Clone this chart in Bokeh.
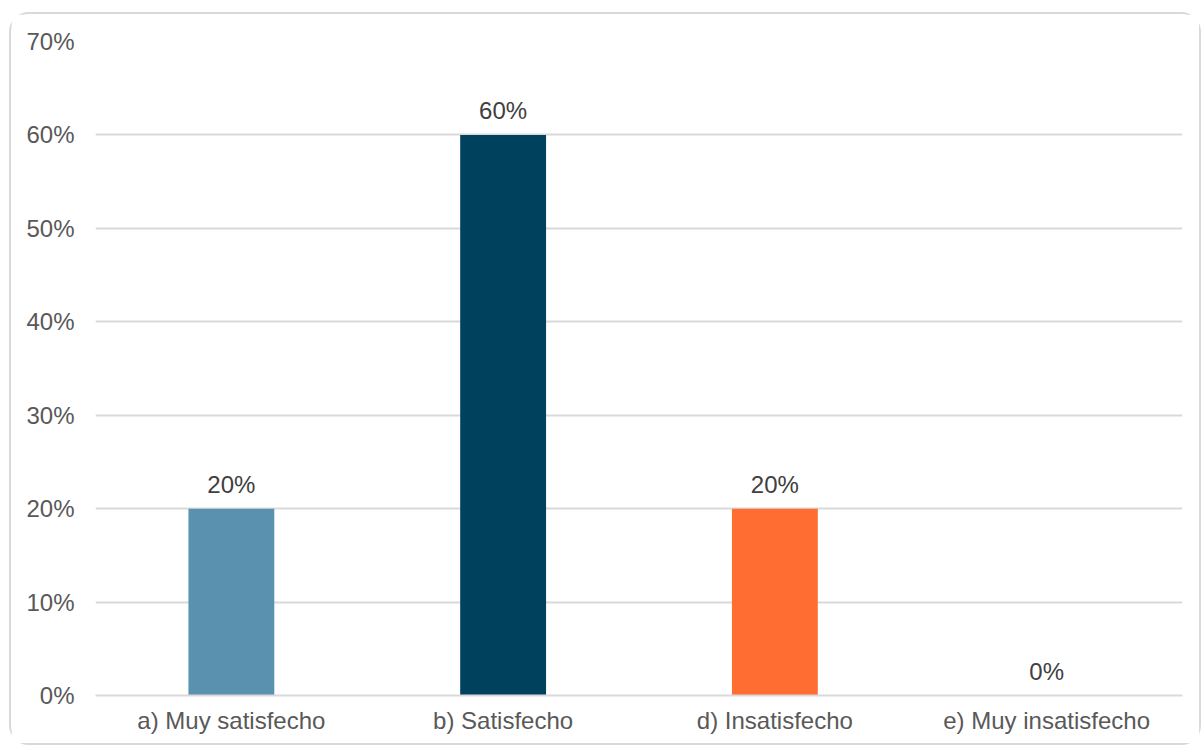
from bokeh.plotting import figure
from bokeh.models import ColumnDataSource, NumeralTickFormatter, FactorRange
from bokeh.core.properties import value
from bokeh.embed import file_html
from bokeh.resources import INLINE

categories = ["a) Muy satisfecho", "b) Satisfecho", "d) Insatisfecho", "e) Muy insatisfecho"]
shares = [0.20, 0.60, 0.20, 0.0]
labels = ["20%", "60%", "20%", "0%"]
colors = ["#5A91AE", "#00425E", "#FF6D33", "#FFFFFF"]

src = ColumnDataSource(dict(cat=categories, val=shares, lab=labels, col=colors))

FONT = "Liberation Sans"

p = figure(x_range=FactorRange(*categories, range_padding=0), y_range=(0, 0.7),
           width=1192, height=733, output_backend="svg", toolbar_location=None,
           min_border_left=84, min_border_right=21, min_border_top=27, min_border_bottom=52)
p.styles = {"margin-left": "9px", "margin-top": "12px", "border": "2px solid #D9D9D9",
            "border-radius": "20px"}

p.vbar(x="cat", top="val", width=0.316, fill_color="col", line_color=None, source=src)
p.text(x="cat", y="val", text="lab", source=src, text_align="center", text_baseline="bottom",
       y_offset=-11, text_font=value(FONT), text_font_size="24px", text_color="#404040")

p.outline_line_color = None
p.xgrid.grid_line_color = None
p.ygrid.grid_line_color = "#D9D9D9"
p.ygrid.grid_line_width = 2
p.yaxis.ticker = [0, 0.1, 0.2, 0.3, 0.4, 0.5, 0.6, 0.7]
p.yaxis.formatter = NumeralTickFormatter(format="0%")
for ax in (p.xaxis[0], p.yaxis[0]):
    ax.axis_line_color = None
    ax.major_tick_line_color = None
    ax.minor_tick_line_color = None
    ax.major_label_text_font = FONT
    ax.major_label_text_font_size = "24px"
    ax.major_label_text_color = "#595959"
p.xaxis.axis_line_color = "#D9D9D9"
p.xaxis.axis_line_width = 2
p.yaxis.major_label_standoff = 15
p.xaxis.major_label_standoff = 5

open("out.html", "w").write(file_html(p, INLINE))
